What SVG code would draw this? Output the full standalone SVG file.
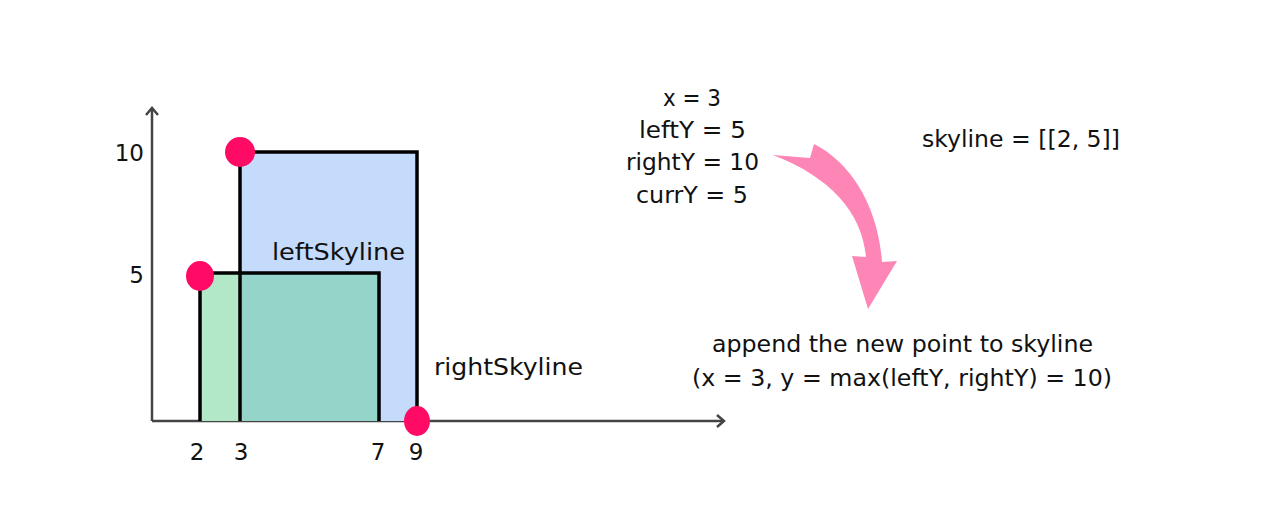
<svg xmlns="http://www.w3.org/2000/svg" width="1280" height="524" viewBox="0 0 1280 524">
<style>
text{font-family:"Comic Sans MS","DejaVu Sans",sans-serif;font-size:23px;fill:#111}
.c{text-anchor:middle}
.edge{fill:none;stroke:#000;stroke-width:3.5;stroke-linejoin:miter}
.axis{fill:none;stroke:#444;stroke-width:2.5}
.dot{fill:#ff0a64}
</style>
<rect width="1280" height="524" fill="#fff"/>
<g id="axes">
<path class="axis" d="M152,421 V108"/>
<path class="axis" d="M146,115 L152,108 L158,115"/>
<path class="axis" d="M152,421 H724"/>
<path class="axis" d="M717,415 L724,421 L717,427"/>
<text x="144" y="161" text-anchor="end">10</text>
<text x="144" y="283" text-anchor="end">5</text>
<text class="c" x="197" y="460">2</text>
<text class="c" x="241" y="460">3</text>
<text class="c" x="378" y="460">7</text>
<text class="c" x="416" y="460">9</text>
</g>
<g id="rightSkyline">
<rect x="240" y="152" width="177" height="269" fill="#c4dbfc"/>
</g>
<g id="leftSkyline">
<rect x="200" y="273" width="179" height="148" fill="#b2e8c8"/>
<rect x="240" y="273" width="139" height="148" fill="#95d4c8"/>
<path class="edge" d="M240,421 V152 H417 V421"/>
<path class="edge" d="M200,421 V273 H379 V421"/>
<text x="272" y="260" textLength="133" lengthAdjust="spacingAndGlyphs">leftSkyline</text>
<text x="434" y="375" textLength="149" lengthAdjust="spacingAndGlyphs">rightSkyline</text>
</g>
<g id="points">
<circle class="dot" cx="240" cy="152" r="15"/>
<ellipse class="dot" cx="200" cy="276" rx="14" ry="15"/>
<ellipse class="dot" cx="417" cy="421" rx="13" ry="15"/>
</g>
<g id="vars">
<text x="663" y="106" textLength="58" lengthAdjust="spacingAndGlyphs">x = 3</text>
<text x="639" y="138" textLength="107" lengthAdjust="spacingAndGlyphs">leftY = 5</text>
<text x="626" y="170" textLength="133" lengthAdjust="spacingAndGlyphs">rightY = 10</text>
<text x="636" y="203" textLength="112" lengthAdjust="spacingAndGlyphs">currY = 5</text>
</g>
<g id="skyline">
<text x="922" y="147" textLength="198" lengthAdjust="spacingAndGlyphs">skyline = [[2, 5]]</text>
</g>
<g id="connectors">
<path d="M773,155 L810,158 L814,144 C850,162 878,205 882,262 L897,261 L868,309 L852,256 L866,257 C862,212 830,177 773,155 Z" fill="#fd86b6"/>
</g>
<g id="result">
<text x="712" y="352" textLength="381" lengthAdjust="spacingAndGlyphs">append the new point to skyline</text>
<text x="692" y="386" textLength="420" lengthAdjust="spacingAndGlyphs">(x = 3, y = max(leftY, rightY) = 10)</text>
</g>
</svg>
